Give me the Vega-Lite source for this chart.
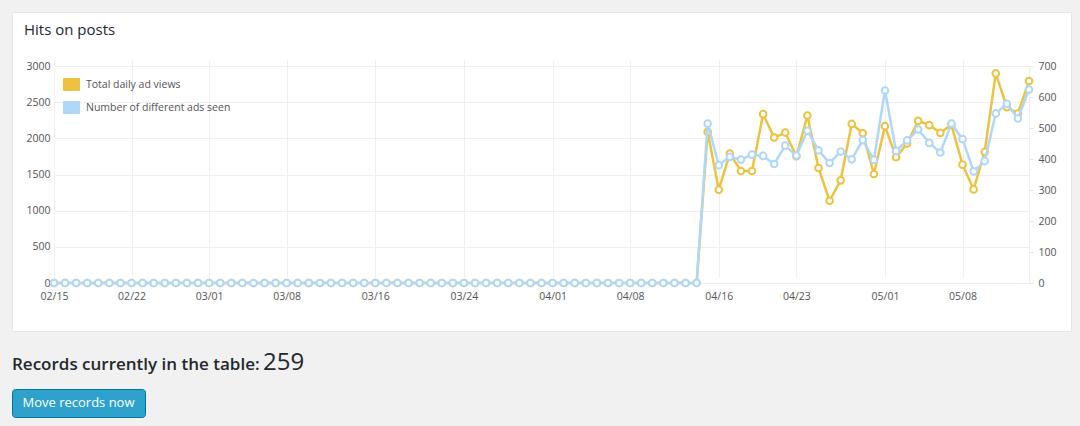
{
  "$schema": "https://vega.github.io/schema/vega-lite/v6.json",
  "background": "#f1f1f1",
  "padding": {"left": 11, "top": 11, "right": 10, "bottom": 10},
  "config": {"font": "Open Sans", "view": {"stroke": null}},
  "spacing": 19,
  "vconcat": [
    {
      "width": 1059,
      "height": 319,
      "view": {"fill": "#ffffff", "stroke": "#e5e5e5"},
      "title": {"text": "Hits on posts", "anchor": "start", "frame": "group", "offset": -37.5, "dx": 12, "baseline": "alphabetic", "font": "Open Sans", "fontSize": 15, "fontWeight": "normal", "color": "#23282d"},
      "data": {"values": [
        {"date": "2015-02-15", "views": 0, "ads": 0},
        {"date": "2015-02-16", "views": 0, "ads": 0},
        {"date": "2015-02-17", "views": 0, "ads": 0},
        {"date": "2015-02-18", "views": 0, "ads": 0},
        {"date": "2015-02-19", "views": 0, "ads": 0},
        {"date": "2015-02-20", "views": 0, "ads": 0},
        {"date": "2015-02-21", "views": 0, "ads": 0},
        {"date": "2015-02-22", "views": 0, "ads": 0},
        {"date": "2015-02-23", "views": 0, "ads": 0},
        {"date": "2015-02-24", "views": 0, "ads": 0},
        {"date": "2015-02-25", "views": 0, "ads": 0},
        {"date": "2015-02-26", "views": 0, "ads": 0},
        {"date": "2015-02-27", "views": 0, "ads": 0},
        {"date": "2015-02-28", "views": 0, "ads": 0},
        {"date": "2015-03-01", "views": 0, "ads": 0},
        {"date": "2015-03-02", "views": 0, "ads": 0},
        {"date": "2015-03-03", "views": 0, "ads": 0},
        {"date": "2015-03-04", "views": 0, "ads": 0},
        {"date": "2015-03-05", "views": 0, "ads": 0},
        {"date": "2015-03-06", "views": 0, "ads": 0},
        {"date": "2015-03-07", "views": 0, "ads": 0},
        {"date": "2015-03-08", "views": 0, "ads": 0},
        {"date": "2015-03-09", "views": 0, "ads": 0},
        {"date": "2015-03-10", "views": 0, "ads": 0},
        {"date": "2015-03-11", "views": 0, "ads": 0},
        {"date": "2015-03-12", "views": 0, "ads": 0},
        {"date": "2015-03-13", "views": 0, "ads": 0},
        {"date": "2015-03-14", "views": 0, "ads": 0},
        {"date": "2015-03-15", "views": 0, "ads": 0},
        {"date": "2015-03-16", "views": 0, "ads": 0},
        {"date": "2015-03-17", "views": 0, "ads": 0},
        {"date": "2015-03-18", "views": 0, "ads": 0},
        {"date": "2015-03-19", "views": 0, "ads": 0},
        {"date": "2015-03-20", "views": 0, "ads": 0},
        {"date": "2015-03-21", "views": 0, "ads": 0},
        {"date": "2015-03-22", "views": 0, "ads": 0},
        {"date": "2015-03-23", "views": 0, "ads": 0},
        {"date": "2015-03-24", "views": 0, "ads": 0},
        {"date": "2015-03-25", "views": 0, "ads": 0},
        {"date": "2015-03-26", "views": 0, "ads": 0},
        {"date": "2015-03-27", "views": 0, "ads": 0},
        {"date": "2015-03-28", "views": 0, "ads": 0},
        {"date": "2015-03-29", "views": 0, "ads": 0},
        {"date": "2015-03-30", "views": 0, "ads": 0},
        {"date": "2015-03-31", "views": 0, "ads": 0},
        {"date": "2015-04-01", "views": 0, "ads": 0},
        {"date": "2015-04-02", "views": 0, "ads": 0},
        {"date": "2015-04-03", "views": 0, "ads": 0},
        {"date": "2015-04-04", "views": 0, "ads": 0},
        {"date": "2015-04-05", "views": 0, "ads": 0},
        {"date": "2015-04-06", "views": 0, "ads": 0},
        {"date": "2015-04-07", "views": 0, "ads": 0},
        {"date": "2015-04-08", "views": 0, "ads": 0},
        {"date": "2015-04-09", "views": 0, "ads": 0},
        {"date": "2015-04-10", "views": 0, "ads": 0},
        {"date": "2015-04-11", "views": 0, "ads": 0},
        {"date": "2015-04-12", "views": 0, "ads": 0},
        {"date": "2015-04-13", "views": 0, "ads": 0},
        {"date": "2015-04-14", "views": 0, "ads": 0},
        {"date": "2015-04-15", "views": 2089, "ads": 514},
        {"date": "2015-04-16", "views": 1290, "ads": 380},
        {"date": "2015-04-17", "views": 1789, "ads": 407},
        {"date": "2015-04-18", "views": 1549, "ads": 398},
        {"date": "2015-04-19", "views": 1549, "ads": 414},
        {"date": "2015-04-20", "views": 2334, "ads": 410},
        {"date": "2015-04-21", "views": 2011, "ads": 384},
        {"date": "2015-04-22", "views": 2080, "ads": 443},
        {"date": "2015-04-23", "views": 1752, "ads": 411},
        {"date": "2015-04-24", "views": 2316, "ads": 491},
        {"date": "2015-04-25", "views": 1590, "ads": 428},
        {"date": "2015-04-26", "views": 1137, "ads": 387},
        {"date": "2015-04-27", "views": 1419, "ads": 424},
        {"date": "2015-04-28", "views": 2200, "ads": 399},
        {"date": "2015-04-29", "views": 2071, "ads": 461},
        {"date": "2015-04-30", "views": 1507, "ads": 397},
        {"date": "2015-05-01", "views": 2168, "ads": 621},
        {"date": "2015-05-02", "views": 1738, "ads": 426},
        {"date": "2015-05-03", "views": 1928, "ads": 460},
        {"date": "2015-05-04", "views": 2242, "ads": 495},
        {"date": "2015-05-05", "views": 2182, "ads": 452},
        {"date": "2015-05-06", "views": 2076, "ads": 421},
        {"date": "2015-05-07", "views": 2186, "ads": 514},
        {"date": "2015-05-08", "views": 1636, "ads": 464},
        {"date": "2015-05-09", "views": 1294, "ads": 360},
        {"date": "2015-05-10", "views": 1812, "ads": 393},
        {"date": "2015-05-11", "views": 2898, "ads": 547},
        {"date": "2015-05-12", "views": 2432, "ads": 578},
        {"date": "2015-05-13", "views": 2344, "ads": 531},
        {"date": "2015-05-14", "views": 2792, "ads": 624}
      ]},
      "encoding": {
        "x": {
          "field": "date", "type": "temporal",
          "scale": {"type": "utc", "nice": false, "range": [42, 1017],
            "domain": [{"year": 2015, "month": 2, "date": 15, "utc": true}, {"year": 2015, "month": 5, "date": 14, "utc": true}]},
          "axis": {
            "orient": "bottom", "offset": -48, "title": null, "format": "%m/%d",
            "values": [
              {"year": 2015, "month": 2, "date": 15, "utc": true},
              {"year": 2015, "month": 2, "date": 22, "utc": true},
              {"year": 2015, "month": 3, "date": 1, "utc": true},
              {"year": 2015, "month": 3, "date": 8, "utc": true},
              {"year": 2015, "month": 3, "date": 16, "utc": true},
              {"year": 2015, "month": 3, "date": 24, "utc": true},
              {"year": 2015, "month": 4, "date": 1, "utc": true},
              {"year": 2015, "month": 4, "date": 8, "utc": true},
              {"year": 2015, "month": 4, "date": 16, "utc": true},
              {"year": 2015, "month": 4, "date": 23, "utc": true},
              {"year": 2015, "month": 5, "date": 1, "utc": true},
              {"year": 2015, "month": 5, "date": 8, "utc": true}
            ],
            "grid": true, "gridColor": "#efefef", "gridWidth": 1,
            "domain": false, "ticks": false, "tickSize": 0, "labelPadding": 8,
            "labelFont": "Open Sans", "labelFontSize": 10.5, "labelColor": "#545454",
            "labelFlush": false, "labelOverlap": false
          }
        }
      },
      "layer": [
        {
          "encoding": {
            "y": {
              "field": "views", "type": "quantitative",
              "scale": {"domain": [0, 3000], "range": [271, 54], "nice": false},
              "axis": {
                "orient": "left", "offset": -42, "title": null, "format": "d",
                "values": [0, 500, 1000, 1500, 2000, 2500, 3000],
                "grid": true, "gridColor": "#efefef", "gridWidth": 1,
                "domain": true, "domainColor": "#efefef", "domainWidth": 1,
                "ticks": false, "tickSize": 0, "labelPadding": 4,
                "labelFont": "Open Sans", "labelFontSize": 10.5, "labelColor": "#545454"
              }
            },
            "color": {
              "datum": "Total daily ad views",
              "scale": {"domain": ["Total daily ad views", "Number of different ads seen"], "range": ["#edc240", "#afd8f8"]},
              "legend": {
                "orient": "none", "legendX": 51, "legendY": 64, "title": null, "padding": 0,
                "symbolType": "M-1,-0.75H1V0.75H-1Z", "symbolSize": 256,
                "labelFont": "Open Sans", "labelFontSize": 10.5, "labelColor": "#545454",
                "labelOffset": 6, "rowPadding": 6,
                "encode": {"symbols": {"update": {"fill": {"scale": "color", "field": "value"}, "stroke": {"value": "#cccccc"}, "strokeWidth": {"value": 1}, "opacity": {"value": 1}}}}
              }
            }
          },
          "layer": [
            {"mark": {"type": "line", "strokeWidth": 2.5}},
            {"mark": {"type": "point", "filled": false, "fill": "#ffffff", "opacity": 1, "size": 44, "strokeWidth": 2}}
          ]
        },
        {
          "encoding": {
            "y": {
              "field": "ads", "type": "quantitative",
              "scale": {"domain": [0, 700], "range": [271, 54], "nice": false},
              "axis": {
                "orient": "right", "offset": -42, "title": null, "format": "d",
                "values": [0, 100, 200, 300, 400, 500, 600, 700],
                "grid": false,
                "domain": true, "domainColor": "#efefef", "domainWidth": 1,
                "ticks": true, "tickColor": "#e5e5e5", "tickSize": 4, "labelPadding": 5,
                "labelFont": "Open Sans", "labelFontSize": 10.5, "labelColor": "#545454"
              }
            },
            "color": {
              "datum": "Number of different ads seen",
              "scale": {"domain": ["Total daily ad views", "Number of different ads seen"], "range": ["#edc240", "#afd8f8"]},
              "legend": {
                "orient": "none", "legendX": 51, "legendY": 64, "title": null, "padding": 0,
                "symbolType": "M-1,-0.75H1V0.75H-1Z", "symbolSize": 256,
                "labelFont": "Open Sans", "labelFontSize": 10.5, "labelColor": "#545454",
                "labelOffset": 6, "rowPadding": 6,
                "encode": {"symbols": {"update": {"fill": {"scale": "color", "field": "value"}, "stroke": {"value": "#cccccc"}, "strokeWidth": {"value": 1}, "opacity": {"value": 1}}}}
              }
            }
          },
          "layer": [
            {"mark": {"type": "line", "strokeWidth": 2.5}},
            {"mark": {"type": "point", "filled": false, "fill": "#ffffff", "opacity": 1, "size": 44, "strokeWidth": 2}}
          ]
        }
      ],
      "resolve": {"scale": {"y": "independent"}, "axis": {"y": "independent"}}
    },
    {
      "spacing": 2,
      "hconcat": [
        {
          "width": 133,
          "height": 28,
          "view": {"fill": "#2ea2cc", "stroke": "#0074a2", "cornerRadius": 3},
          "title": {"text": "Records currently in the table:", "anchor": "start", "frame": "group", "offset": 2, "baseline": "alphabetic", "font": "Open Sans", "fontSize": 17, "fontWeight": 600, "color": "#23282d"},
          "data": {"values": [{"label": "Move records now"}]},
          "mark": {"type": "text", "color": "#ffffff", "font": "Open Sans", "fontSize": 13},
          "encoding": {"text": {"field": "label"}}
        },
        {
          "width": 1,
          "height": 28,
          "title": {"text": "259", "anchor": "start", "frame": "group", "offset": -5, "baseline": "alphabetic", "font": "Open Sans", "fontSize": 24, "fontWeight": "normal", "color": "#23282d"},
          "data": {"values": [{"label": ""}]},
          "mark": {"type": "text", "color": "#ffffff"},
          "encoding": {"text": {"field": "label"}}
        }
      ]
    }
  ]
}
